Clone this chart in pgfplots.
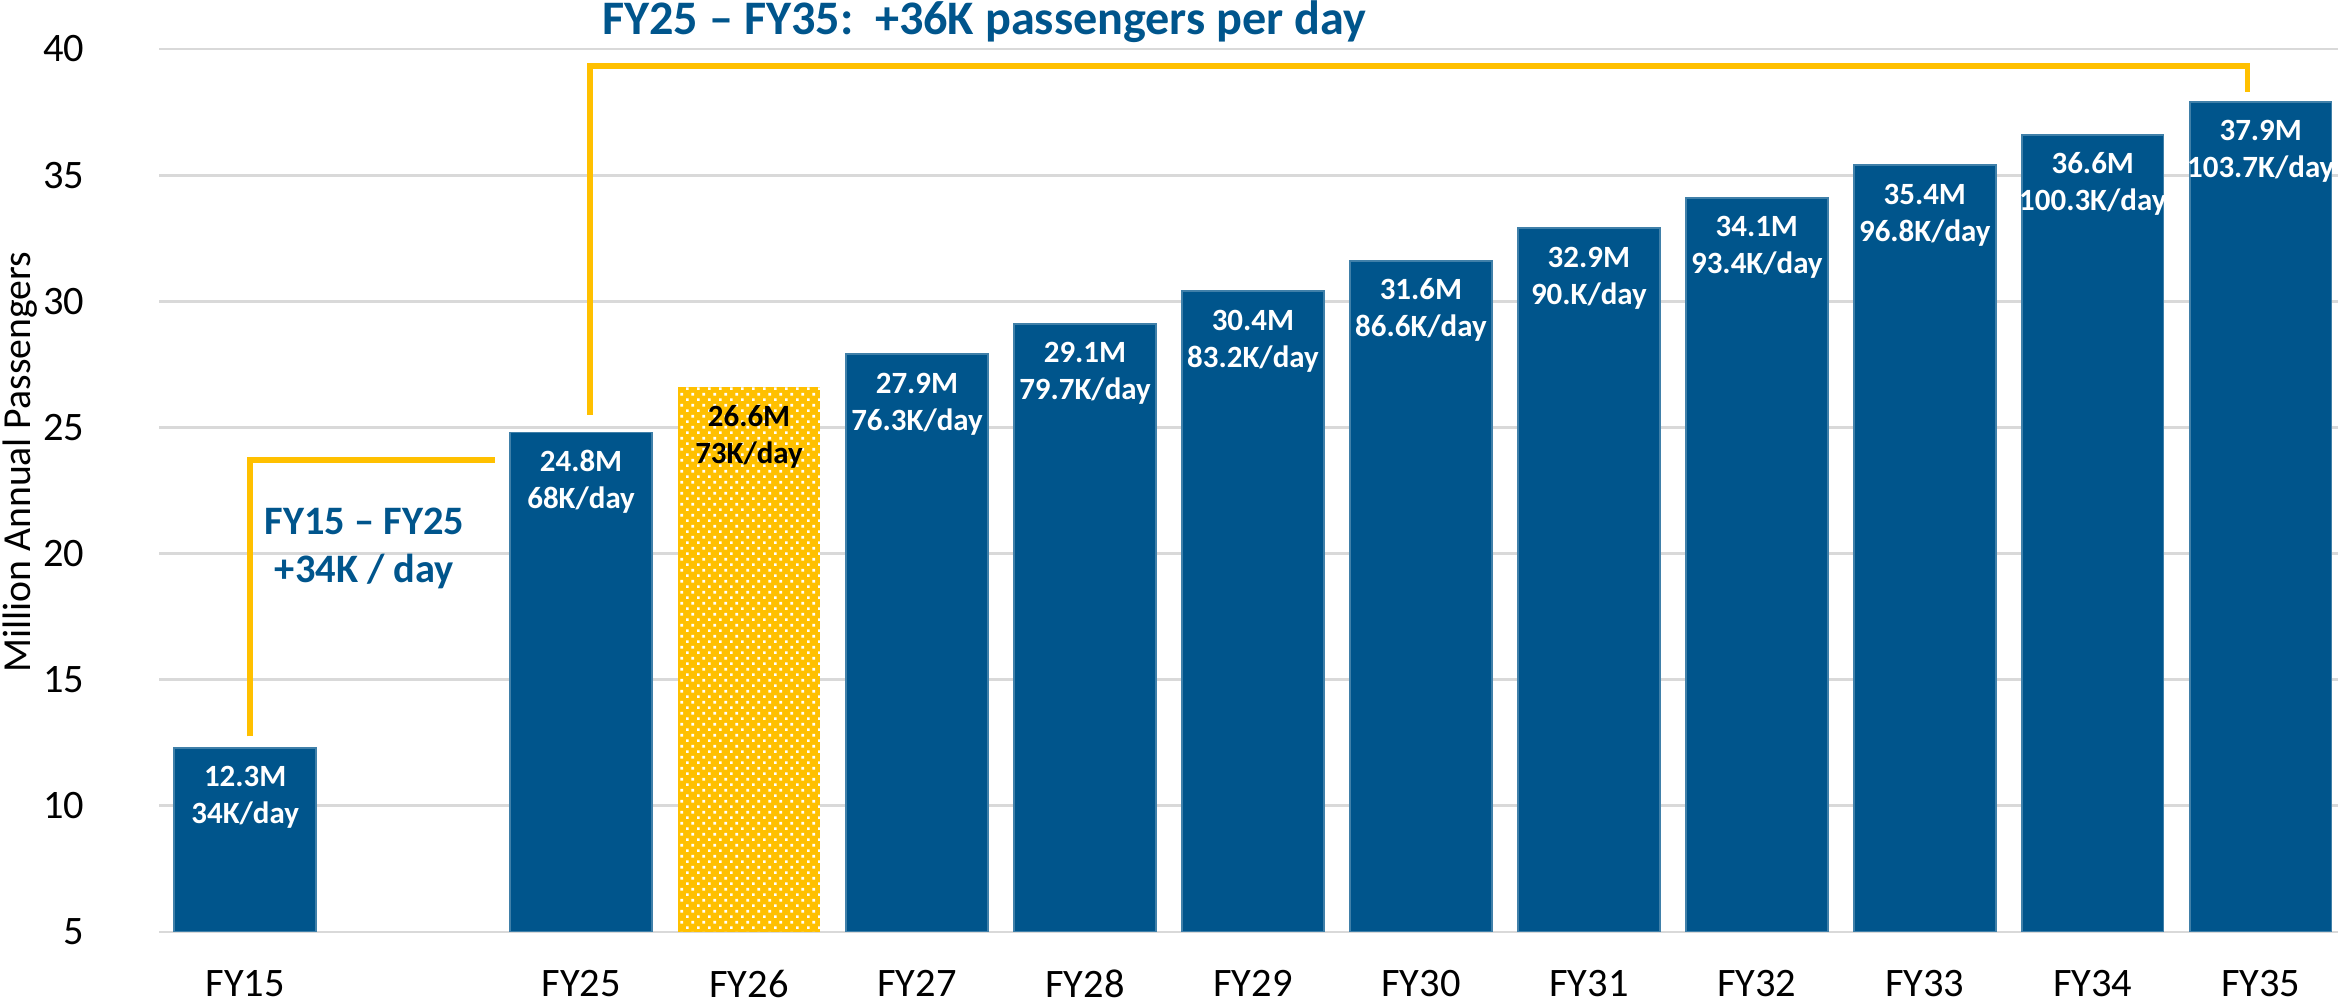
\documentclass[border=0pt]{standalone}
\usepackage{pgfplots}
\pgfplotsset{compat=1.18}
\usepackage{fontspec}
\setmainfont{Carlito}
\usetikzlibrary{patterns.meta}
\definecolor{mblue}{HTML}{00558C}
\definecolor{myellow}{HTML}{FFC000}
\definecolor{gridgray}{HTML}{D9D9D9}
\tikzdeclarepattern{
  name=mydots,
  type=uncolored,
  bottom left={(0pt,0pt)},
  top right={(3.1pt,3.1pt)},
  tile size={(3.1pt,3.1pt)},
  code={
    \fill (0pt,0pt) rectangle (0.75pt,0.75pt);
    \fill (1.55pt,1.55pt) rectangle (2.3pt,2.3pt);
  }
}
\begin{document}
\begin{tikzpicture}
\begin{axis}[
  name=ax,
  scale only axis,
  width=217.85mm, height=88.3mm,
  xmin=-0.51, xmax=12.46, ymin=5, ymax=40,
  clip mode=individual,
  ytick={5,10,...,40},
  xtick={0,2,3,4,5,6,7,8,9,10,11,12},
  xticklabels={FY15,FY25,FY26,FY27,FY28,FY29,FY30,FY31,FY32,FY33,FY34,FY35},
  ymajorgrids,
  grid style={draw=gridgray, line width=0.8pt},
  axis line style={draw=none},
  major tick length=0pt,
  /pgf/number format/assume math mode=true,
  yticklabel style={font=\fontsize{11.5}{13}\selectfont, xshift=-6.3mm, anchor=east},
  xticklabel style={font=\fontsize{11.5}{13}\selectfont, yshift=-3.4mm, inner sep=1pt},
  ylabel={Million Annual Passengers},
  ylabel style={at={(axis description cs:-0.0640,0.532)}, anchor=center, rotate=0, font=\fontsize{11.3}{13}\selectfont},
]
% blue bars
\addplot[ybar, bar width=0.843, bar shift=0pt, fill=mblue, draw=mblue!75!white, line width=0.5pt]
  coordinates {(0,12.3) (2,24.8) (4,27.9) (5,29.1) (6,30.4) (7,31.6) (8,32.9) (9,34.1) (10,35.4) (11,36.6) (12,37.9)};
% FY26 patterned bar
\addplot[ybar, bar width=0.843, bar shift=0pt, fill=myellow, draw=none,
  postaction={pattern=mydots, pattern color=white}]
  coordinates {(3,26.6)};
% labels, line 1
\addplot[draw=none, mark=none, nodes near coords, point meta=explicit symbolic,
  every node near coord/.style={anchor=base, yshift=-3.9mm, text=white, font=\bfseries\fontsize{8.8}{10}\selectfont}]
  coordinates {(0,12.3)[12.3M] (2,24.8)[24.8M] (4,27.9)[27.9M] (5,29.1)[29.1M] (6,30.4)[30.4M] (7,31.6)[31.6M] (8,32.9)[32.9M] (9,34.1)[34.1M] (10,35.4)[35.4M] (11,36.6)[36.6M] (12,37.9)[37.9M]};
% labels, line 2
\addplot[draw=none, mark=none, nodes near coords, point meta=explicit symbolic,
  every node near coord/.style={anchor=base, yshift=-7.6mm, text=white, font=\bfseries\fontsize{8.8}{10}\selectfont}]
  coordinates {(0,12.3)[34K/day] (2,24.8)[68K/day] (4,27.9)[76.3K/day] (5,29.1)[79.7K/day] (6,30.4)[83.2K/day] (7,31.6)[86.6K/day] (8,32.9)[90.K/day] (9,34.1)[93.4K/day] (10,35.4)[96.8K/day] (11,36.6)[100.3K/day] (12,37.9)[103.7K/day]};
% FY26 labels
\addplot[draw=none, mark=none, nodes near coords, point meta=explicit symbolic,
  every node near coord/.style={anchor=base, yshift=-3.9mm, text=black, font=\bfseries\fontsize{8.8}{10}\selectfont}]
  coordinates {(3,26.6)[26.6M]};
\addplot[draw=none, mark=none, nodes near coords, point meta=explicit symbolic,
  every node near coord/.style={anchor=base, yshift=-7.6mm, text=black, font=\bfseries\fontsize{8.8}{10}\selectfont}]
  coordinates {(3,26.6)[73K/day]};
% brackets
\addplot[myellow, line width=1.6pt, mark=none, line join=miter]
  coordinates {(2.053,25.5) (2.053,39.33) (11.92,39.33) (11.92,38.3)};
\addplot[myellow, line width=1.6pt, mark=none, line join=miter]
  coordinates {(0.03,12.75) (0.03,23.7) (1.49,23.7)};
% annotations
\node[text=mblue, font=\bfseries\fontsize{13.7}{15}\selectfont, anchor=center]
  at (axis cs:4.40,41.07) {FY25 – FY35:\ \ +36K passengers per day};
\node[text=mblue, font=\bfseries\fontsize{11.5}{13.5}\selectfont, align=center, anchor=center]
  at (axis cs:0.71,20.2) {FY15 – FY25\\+34K / day};
\coordinate (sw) at (rel axis cs:0,0);
\coordinate (ne) at (rel axis cs:1,1);
\end{axis}
\pgfresetboundingbox
\path ([xshift=-15.95mm,yshift=-7.3mm]sw) rectangle ([yshift=4.9mm]ne);
\end{tikzpicture}
\end{document}
